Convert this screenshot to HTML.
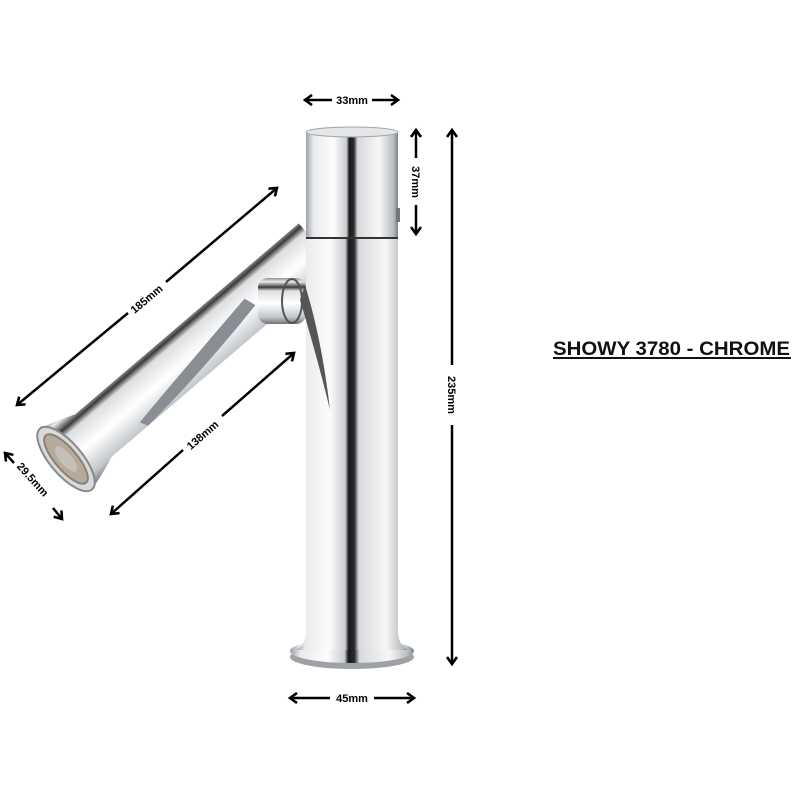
<!DOCTYPE html>
<html><head><style>
html,body{margin:0;padding:0;background:#fff;}
svg{display:block;}
.lbl{font-family:"Liberation Sans",sans-serif;font-size:11px;font-weight:bold;fill:#000;}
</style></head><body>
<svg width="800" height="800" viewBox="0 0 800 800" xmlns="http://www.w3.org/2000/svg">
<defs>
<linearGradient id="cyl" x1="0" x2="1" y1="0" y2="0">
<stop offset="0" stop-color="#9a9ea4"/>
<stop offset="0.08" stop-color="#e8eaec"/>
<stop offset="0.3" stop-color="#fdfdfd"/>
<stop offset="0.44" stop-color="#c9ccd0"/>
<stop offset="0.47" stop-color="#1a1a1a"/>
<stop offset="0.52" stop-color="#2a2a2a"/>
<stop offset="0.56" stop-color="#d8dadd"/>
<stop offset="0.8" stop-color="#f7f7f7"/>
<stop offset="0.95" stop-color="#b8bcc0"/>
<stop offset="1" stop-color="#7d8187"/>
</linearGradient>
<linearGradient id="sp" x1="0" x2="0" y1="0" y2="1">
<stop offset="0" stop-color="#8a8e94"/>
<stop offset="0.08" stop-color="#e9ebed"/>
<stop offset="0.2" stop-color="#3a3a3a"/>
<stop offset="0.28" stop-color="#dcdee0"/>
<stop offset="0.55" stop-color="#ffffff"/>
<stop offset="0.85" stop-color="#c2c6ca"/>
<stop offset="1" stop-color="#6f7379"/>
</linearGradient>
<marker id="ah" markerWidth="12" markerHeight="12" refX="8" refY="6" orient="auto-start-reverse" markerUnits="userSpaceOnUse">
<path d="M1,1 L8,6 L1,11" fill="none" stroke="#000" stroke-width="2.6"/>
</marker>
</defs>

<!-- spout -->
<g transform="translate(66,459) rotate(-40.5)">
<path d="M0,-40 Q22,-34 36,-28 L330,-28 L330,28 L36,28 Q22,34 0,40 Z" fill="url(#sp)"/>
<path d="M80,20 Q150,8 240,-6 L244,6 Q160,22 84,28 Z" fill="#8a8e94"/>
<ellipse cx="0" cy="0" rx="16" ry="40" fill="#d8dadc" stroke="#888" stroke-width="2"/>
<ellipse cx="0" cy="0" rx="11" ry="31" fill="#b6aa9c" stroke="#8a8074" stroke-width="2"/>
<ellipse cx="0" cy="0" rx="6" ry="16" fill="#c8bfb4"/>
</g>
<!-- connector -->
<rect x="258" y="278" width="48" height="46" rx="10" fill="url(#sp)"/>
<ellipse cx="292" cy="301" rx="10" ry="22" fill="none" stroke="#555" stroke-width="2"/>

<!-- base -->
<ellipse cx="352" cy="657" rx="62" ry="12" fill="#9ea2a7"/>
<ellipse cx="352" cy="651" rx="62" ry="12" fill="url(#cyl)"/>
<!-- body -->
<path d="M306,238 L306,630 Q306,645 296,650 L408,650 Q398,645 398,630 L398,238 Z" fill="url(#cyl)"/>
<!-- head -->
<rect x="306" y="132" width="92" height="106" fill="url(#cyl)"/>
<ellipse cx="352" cy="132" rx="46" ry="5" fill="#e4e6e8" stroke="#a0a4a8"/>
<line x1="306" y1="238" x2="398" y2="238" stroke="#333" stroke-width="2"/>
<rect x="396" y="208" width="4" height="14" fill="#777"/>
<!-- lever -->
<path d="M305,285 Q322,340 330,410 Q318,360 300,300 Z" fill="#555"/>

<!-- dimension arrows -->
<g stroke="#000" stroke-width="2.5" fill="none">
<line x1="305" y1="100" x2="332" y2="100" marker-start="url(#ah)"/>
<line x1="372" y1="100" x2="398" y2="100" marker-end="url(#ah)"/>
<line x1="416" y1="130" x2="416" y2="158" marker-start="url(#ah)"/>
<line x1="416" y1="205" x2="416" y2="234" marker-end="url(#ah)"/>
<line x1="452" y1="130" x2="452" y2="365" marker-start="url(#ah)"/>
<line x1="452" y1="425" x2="452" y2="664" marker-end="url(#ah)"/>
<line x1="290" y1="698" x2="330" y2="698" marker-start="url(#ah)"/>
<line x1="374" y1="698" x2="414" y2="698" marker-end="url(#ah)"/>
<line x1="17" y1="405" x2="128" y2="313" marker-start="url(#ah)"/>
<line x1="166" y1="282" x2="277" y2="188" marker-end="url(#ah)"/>
<line x1="111" y1="514" x2="183" y2="450" marker-start="url(#ah)"/>
<line x1="222" y1="416" x2="294" y2="353" marker-end="url(#ah)"/>
<line x1="5" y1="453" x2="14" y2="463" marker-start="url(#ah)"/>
<line x1="53" y1="508" x2="62" y2="519" marker-end="url(#ah)"/>
</g>
<text class="lbl" x="352" y="104" text-anchor="middle">33mm</text>
<text class="lbl" transform="translate(412,182) rotate(90)" text-anchor="middle">37mm</text>
<text class="lbl" transform="translate(448,395) rotate(90)" text-anchor="middle">235mm</text>
<text class="lbl" x="352" y="702" text-anchor="middle">45mm</text>
<text class="lbl" transform="translate(149,302) rotate(-40)" text-anchor="middle">185mm</text>
<text class="lbl" transform="translate(205,438) rotate(-41)" text-anchor="middle">138mm</text>
<text class="lbl" transform="translate(30,482) rotate(48)" text-anchor="middle">29.5mm</text>

<text x="553" y="355" font-family="Liberation Sans, sans-serif" font-weight="bold" font-size="19" fill="#111" textLength="237" lengthAdjust="spacingAndGlyphs">SHOWY 3780 - CHROME</text>
<line x1="553" y1="358" x2="791" y2="358" stroke="#111" stroke-width="2"/>
</svg>
</body></html>
